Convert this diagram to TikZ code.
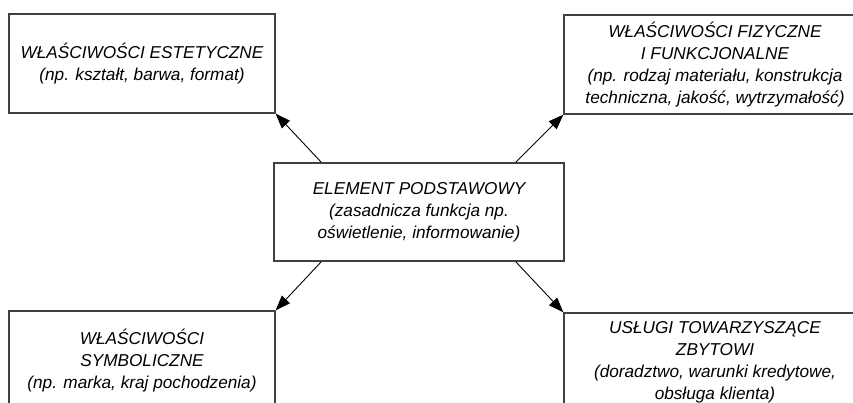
\documentclass[tikz,border=0pt]{standalone}
\usepackage{fontspec}
\setmainfont{Liberation Sans}
\usetikzlibrary{arrows.meta}
\begin{document}
\begin{tikzpicture}[x=1pt,y=-1pt,
  box/.style={draw=black!75, line width=1.3pt, fill=white, align=center,
    font=\itshape\fontsize{17.2}{22}\selectfont, inner sep=0pt},
  sidebox/.style={box, minimum width=266pt, minimum height=99pt},
  widebox/.style={box, minimum width=302pt, minimum height=99pt},
  arr/.style={line width=0.9pt, -{Triangle[length=15pt,width=11pt]}}]
\clip (0,0) rectangle (853,403);
\fill[white] (0,0) rectangle (853,403);

\node[sidebox] (tl) at (142,63.5)
  {WŁAŚCIWOŚCI ESTETYCZNE\\(np. kształt, barwa, format)};
\node[widebox] (tr) at (715,64.5)
  {WŁAŚCIWOŚCI FIZYCZNE\\I FUNKCJONALNE\\(np. rodzaj materiału, konstrukcja\\techniczna, jakość, wytrzymałość)};
\node[box, minimum width=290pt, minimum height=98pt] (c) at (419,212)
  {ELEMENT PODSTAWOWY\\(zasadnicza funkcja np.\\oświetlenie, informowanie)};
\node[sidebox] (bl) at (142,360.5)
  {WŁAŚCIWOŚCI\\SYMBOLICZNE\\(np. marka, kraj pochodzenia)};
\node[widebox] (br) at (715,362.5)
  {USŁUGI TOWARZYSZĄCE\\ZBYTOWI\\(doradztwo, warunki kredytowe,\\obsługa klienta)};

\draw[arr] ([xshift=48pt]c.north west) -- (tl.south east);
\draw[arr] ([xshift=-49pt]c.north east) -- (tr.south west);
\draw[arr] ([xshift=48pt]c.south west) -- (bl.north east);
\draw[arr] ([xshift=-49pt]c.south east) -- (br.north west);
\end{tikzpicture}
\end{document}
